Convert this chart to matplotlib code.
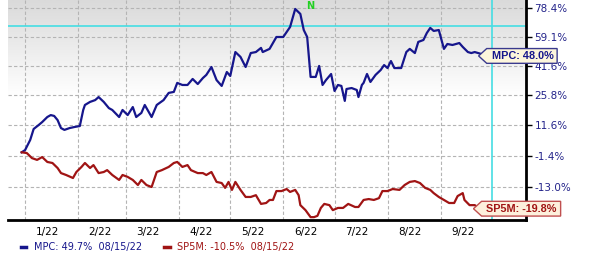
import numpy as np
import pandas as pd
import matplotlib
matplotlib.use("Agg")
import matplotlib.pyplot as plt
import matplotlib.dates as mdates
from matplotlib.path import Path
from matplotlib.ticker import FixedLocator, NullLocator

# cumulative % change since start, MPC vs S&P 500
mpc_dates = ["2021-12-30", "2022-01-01", "2022-01-04", "2022-01-06", "2022-01-09", "2022-01-11",
             "2022-01-14", "2022-01-16", "2022-01-18", "2022-01-20", "2022-01-22", "2022-01-24",
             "2022-01-27", "2022-01-30", "2022-02-02", "2022-02-04", "2022-02-05", "2022-02-08",
             "2022-02-11", "2022-02-13", "2022-02-16", "2022-02-19", "2022-02-21", "2022-02-25",
             "2022-02-27", "2022-03-02", "2022-03-05", "2022-03-07", "2022-03-10", "2022-03-12",
             "2022-03-16", "2022-03-19", "2022-03-23", "2022-03-26", "2022-03-29", "2022-03-31",
             "2022-04-03", "2022-04-06", "2022-04-09", "2022-04-12", "2022-04-15", "2022-04-17",
             "2022-04-20", "2022-04-23", "2022-04-26", "2022-04-29", "2022-05-01", "2022-05-04",
             "2022-05-07", "2022-05-10", "2022-05-13", "2022-05-16", "2022-05-19", "2022-05-20",
             "2022-05-24", "2022-05-28", "2022-06-01", "2022-06-05", "2022-06-08", "2022-06-11",
             "2022-06-13", "2022-06-15", "2022-06-17", "2022-06-20", "2022-06-22", "2022-06-24",
             "2022-06-26", "2022-06-29", "2022-07-01", "2022-07-03", "2022-07-05", "2022-07-07",
             "2022-07-08", "2022-07-11", "2022-07-14", "2022-07-15", "2022-07-17", "2022-07-18",
             "2022-07-20", "2022-07-22", "2022-07-25", "2022-07-28", "2022-07-30", "2022-08-01",
             "2022-08-03", "2022-08-05", "2022-08-09", "2022-08-12", "2022-08-14", "2022-08-17",
             "2022-08-19", "2022-08-22", "2022-08-24", "2022-08-26", "2022-08-28", "2022-08-31",
             "2022-09-03", "2022-09-05", "2022-09-08", "2022-09-12", "2022-09-14", "2022-09-17",
             "2022-09-19", "2022-09-21", "2022-09-23", "2022-09-26"]
mpc_values = [0.0, 0.9, 5.1, 9.8, 11.6, 12.9,
              15.2, 16.1, 15.7, 13.8, 10.2, 9.4,
              10.2, 10.7, 11.1, 18.5, 20.9, 22.4,
              23.3, 24.8, 22.4, 19.4, 18.5, 15.2,
              18.5, 16.1, 19.9, 15.2, 17.1, 20.9,
              15.2, 20.9, 23.3, 26.9, 27.4, 32.1,
              31.0, 31.0, 34.2, 31.5, 34.7, 36.4,
              40.8, 33.6, 30.5, 38.0, 35.8, 49.5,
              46.6, 40.8, 48.9, 49.5, 52.0, 49.5,
              51.4, 58.8, 58.8, 65.3, 77.7, 74.2,
              63.3, 58.8, 35.3, 35.3, 41.4, 31.0,
              33.6, 36.9, 27.9, 31.0, 30.5, 22.9,
              28.9, 29.4, 28.4, 24.8, 31.0, 32.1,
              36.9, 32.6, 36.4, 39.1, 41.9, 40.2,
              44.2, 40.2, 40.2, 49.5, 51.4, 48.9,
              55.7, 56.9, 61.4, 64.7, 62.7, 63.3,
              51.4, 54.4, 53.8, 55.0, 52.6, 49.5,
              48.9, 49.5, 48.9, 48.0]

sp_dates = ["2021-12-30", "2022-01-02", "2022-01-05", "2022-01-08", "2022-01-11", "2022-01-14",
            "2022-01-17", "2022-01-20", "2022-01-22", "2022-01-25", "2022-01-29", "2022-01-31",
            "2022-02-03", "2022-02-05", "2022-02-08", "2022-02-10", "2022-02-13", "2022-02-16",
            "2022-02-18", "2022-02-21", "2022-02-25", "2022-02-27", "2022-03-02", "2022-03-05",
            "2022-03-08", "2022-03-10", "2022-03-13", "2022-03-16", "2022-03-19", "2022-03-22",
            "2022-03-26", "2022-03-29", "2022-03-31", "2022-04-03", "2022-04-06", "2022-04-08",
            "2022-04-12", "2022-04-15", "2022-04-17", "2022-04-20", "2022-04-23", "2022-04-26",
            "2022-04-28", "2022-04-30", "2022-05-02", "2022-05-04", "2022-05-07", "2022-05-10",
            "2022-05-13", "2022-05-16", "2022-05-19", "2022-05-22", "2022-05-24", "2022-05-26",
            "2022-05-28", "2022-05-31", "2022-06-03", "2022-06-05", "2022-06-08", "2022-06-10",
            "2022-06-11", "2022-06-14", "2022-06-17", "2022-06-19", "2022-06-21", "2022-06-23",
            "2022-06-25", "2022-06-28", "2022-06-30", "2022-07-03", "2022-07-06", "2022-07-09",
            "2022-07-13", "2022-07-15", "2022-07-18", "2022-07-21", "2022-07-24", "2022-07-27",
            "2022-07-29", "2022-08-01", "2022-08-04", "2022-08-08", "2022-08-11", "2022-08-14",
            "2022-08-17", "2022-08-20", "2022-08-23", "2022-08-26", "2022-08-28", "2022-08-31",
            "2022-09-03", "2022-09-06", "2022-09-09", "2022-09-11", "2022-09-14", "2022-09-15",
            "2022-09-18", "2022-09-21", "2022-09-23"]
sp_values = [0.0, -0.3, -2.3, -3.0, -1.9, -3.8,
             -4.2, -6.1, -8.0, -8.7, -9.8, -7.6,
             -5.7, -4.2, -6.1, -5.0, -8.0, -7.6,
             -6.9, -8.7, -10.5, -8.7, -9.4, -10.5,
             -12.3, -10.5, -12.3, -13.0, -7.6, -6.9,
             -5.7, -4.2, -3.8, -5.7, -5.0, -6.9,
             -8.0, -8.0, -8.7, -7.6, -11.2, -11.6,
             -13.3, -11.2, -14.0, -11.2, -14.0, -16.4,
             -16.4, -15.8, -18.7, -18.4, -17.4, -17.4,
             -14.4, -14.4, -13.7, -14.7, -14.0, -15.8,
             -19.1, -20.7, -22.9, -22.9, -22.5, -20.0,
             -18.7, -19.1, -20.7, -20.0, -20.0, -18.7,
             -19.7, -19.7, -17.4, -17.1, -17.4, -16.8,
             -14.4, -14.4, -13.7, -14.0, -12.3, -11.2,
             -10.9, -11.6, -13.3, -14.0, -15.1, -16.4,
             -17.4, -18.4, -18.4, -16.1, -15.1, -17.4,
             -19.1, -19.1, -19.8]

y_ticks = [78.4, 59.1, 41.6, 25.8, 11.6, -1.4, -13.0]
month_labels = ["1/22", "2/22", "3/22", "4/22", "5/22", "6/22", "7/22", "8/22", "9/22"]
high_line = 65.7
mpc_legend = "MPC: 49.7%  08/15/22"
sp_legend = "SP5M: -10.5%  08/15/22"

navy = "#16168c"
dred = "#a01414"
cyan = "#45dde3"


def tag_box(x0, y0, width, height, mutation_size):
    # box with a pointed left side, like a price tag
    py = 0.22 * mutation_size
    pl = 0.45 * mutation_size
    pr = 0.35 * mutation_size
    x0, y0 = x0 - pl, y0 - py
    x1, y1 = x0 + width + pl + pr, y0 + height + 2 * py
    d = 0.75 * mutation_size
    ym = (y0 + y1) / 2
    verts = [(x0, y0), (x1, y0), (x1, y1), (x0, y1), (x0 - d, ym), (x0, y0), (x0, y0)]
    codes = [Path.MOVETO, Path.LINETO, Path.LINETO, Path.LINETO, Path.LINETO, Path.LINETO, Path.CLOSEPOLY]
    return Path(verts, codes)


fig = plt.figure(figsize=(5.9, 2.57), dpi=100)
ax = fig.add_axes([8 / 590, 37 / 257, 518 / 590, 220 / 257])

mpc_x = pd.to_datetime(mpc_dates)
sp_x = pd.to_datetime(sp_dates)
mpc_y = 1 + np.array(mpc_values) / 100
sp_y = 1 + np.array(sp_values) / 100

ax.set_yscale("log")
ax.set_ylim(0.7622, 1.842)
ax.set_xlim(pd.Timestamp("2021-12-22"), pd.Timestamp("2022-10-21"))

# grey fade at top of plot area
grad = np.linspace(0, 1, 200).reshape(-1, 1)
grad = np.clip((grad - 0.56) / 0.44, 0, 1)
ax.imshow(grad, extent=[0, 1, 0, 1], transform=ax.transAxes, origin="lower",
          cmap=matplotlib.colors.LinearSegmentedColormap.from_list("g", ["#ffffff", "#dadada"]),
          aspect="auto", zorder=0)

ax.plot(mpc_x, mpc_y, color=navy, lw=1.6, zorder=3)
ax.plot(sp_x, sp_y, color=dred, lw=1.6, zorder=3)

ax.axhline(1 + high_line / 100, color=cyan, lw=1.2, zorder=2)
ax.axvline(pd.Timestamp("2022-10-01"), color=cyan, lw=1.2, zorder=2)

# y axis on the right
ax.yaxis.tick_right()
ax.yaxis.set_major_locator(FixedLocator([1 + v / 100 for v in y_ticks]))
ax.yaxis.set_minor_locator(NullLocator())
ax.set_yticklabels([f"{v:.1f}%" for v in y_ticks])
ax.tick_params(axis="y", which="major", colors="black", labelcolor="#23238a",
               labelsize=7.5, length=4, width=1, pad=2, direction="out")

# x axis: gridlines at month starts, labels mid-month
ax.xaxis.set_major_locator(mdates.MonthLocator(bymonth=range(1, 10)))
ax.xaxis.set_major_formatter(matplotlib.ticker.NullFormatter())
ax.xaxis.set_minor_locator(mdates.MonthLocator(bymonth=range(1, 10), bymonthday=14))
ax.xaxis.set_minor_formatter(matplotlib.ticker.FixedFormatter(month_labels))
ax.tick_params(axis="x", which="both", length=0, labelsize=7.5, pad=5)

ax.grid(True, which="major", color="#b4b4b4", lw=0.8, ls=(0, (3, 2)), zorder=1)
ax.set_axisbelow(True)

for s in ["top", "left"]:
    ax.spines[s].set_visible(False)
for s in ["right", "bottom"]:
    ax.spines[s].set_linewidth(2)
    ax.spines[s].set_color("black")

# news marker
ax.text(pd.Timestamp("2022-06-17"), 0.995, "N", transform=ax.get_xaxis_transform(),
        color="#22d022", fontsize=7, fontweight="bold", ha="center", va="top")

# end-value tags
ax.annotate(f"MPC: {mpc_values[-1]:.1f}%", xy=(mpc_x[-1], mpc_y[-1]), xytext=(6, -1),
            textcoords="offset points", va="center", ha="left", color=navy,
            fontsize=7.8, fontweight="bold", family="Liberation Sans", annotation_clip=False,
            bbox=dict(boxstyle=tag_box, fc="#fdf6dc", ec="#3a3a8e", lw=1), zorder=5)
ax.annotate(f"SP5M: {sp_values[-1]:.1f}%", xy=(sp_x[-1], sp_y[-1]), xytext=(6, -1),
            textcoords="offset points", va="center", ha="left", color=dred,
            fontsize=7.8, fontweight="bold", family="Liberation Sans", annotation_clip=False,
            bbox=dict(boxstyle=tag_box, fc="#fdf0dc", ec="#c05050", lw=1), zorder=5)

# legend line under the axis
h1, = ax.plot([], [], color=navy, lw=2.5)
h2, = ax.plot([], [], color=dred, lw=2.5)
leg = fig.legend([h1, h2], [mpc_legend, sp_legend], loc="lower left",
                 bbox_to_anchor=(0.02, -0.015), ncol=2, frameon=False, fontsize=7,
                 handlelength=0.6, handletextpad=0.8, columnspacing=2.2)
leg.get_texts()[0].set_color(navy)
leg.get_texts()[1].set_color(dred)

fig.savefig("out.png", dpi=100)
